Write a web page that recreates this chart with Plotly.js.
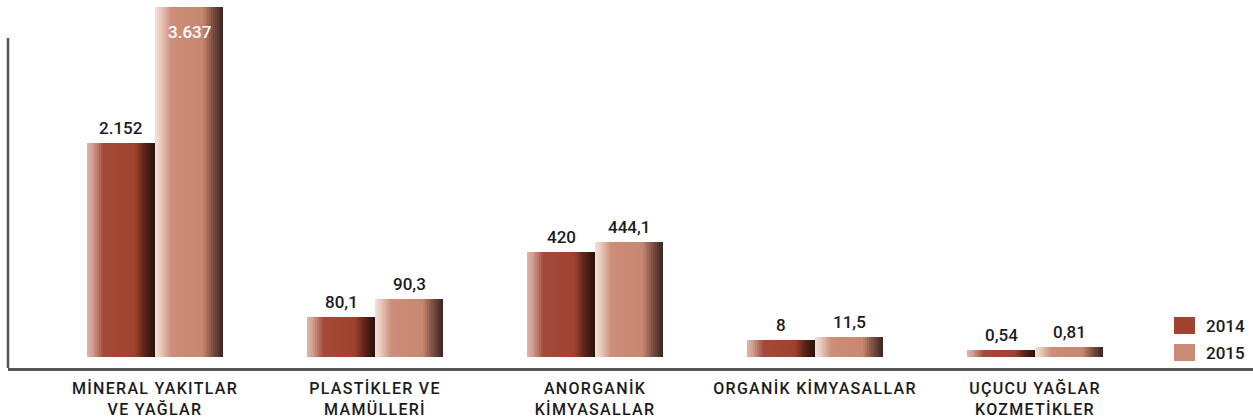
<!DOCTYPE html>
<html>
<head>
<meta charset="utf-8">
<script src="https://cdn.plot.ly/plotly-3.0.1.min.js"></script>
<style>
  html, body { margin: 0; padding: 0; background: #fff; }
  #chart { width: 1253px; height: 418px; }
  #chart .xtick text { letter-spacing: 1.3px; }
</style>
</head>
<body>
<div id="chart"></div>
<script>
// ---- Data ----
const categories = [
  'MİNERAL YAKITLAR<br>VE YAĞLAR',
  'PLASTİKLER VE<br>MAMÜLLERİ',
  'ANORGANİK<br>KİMYASALLAR',
  'ORGANİK KİMYASALLAR',
  'UÇUCU YAĞLAR<br>KOZMETİKLER'
];
const seriesNames = ['2014', '2015'];
// printed value labels
const labels2014 = ['2.152', '80,1', '420', '8', '0,54'];
const labels2015 = ['3.637', '90,3', '444,1', '11,5', '0,81'];
// bar heights as drawn in the reference (the original is not to scale)
const drawn2014 = [214, 40, 105, 17, 7];
const drawn2015 = [350, 58, 115, 20, 10];

// ---- Styling ----
const FONT = 'Roboto, "DejaVu Sans", sans-serif';
const TEXT = '#1b1b1b';
const W = 68 / 220;           // bar width (category units)
const N = 34;                 // gradient strips per bar

const palettes = [
  // 2014
  [[0, '#DDB6AB'], [0.08, '#D2A093'], [0.24, '#A54A3A'], [0.70, '#9F422E'], [0.84, '#5C2519'], [1, '#28110B']],
  // 2015
  [[0, '#F3E1DA'], [0.08, '#EACBBE'], [0.24, '#CC8D79'], [0.70, '#C8876F'], [0.84, '#7E5144'], [1, '#392520']]
];
const legendColors = ['#A1432F', '#CB8A76'];

function hex2rgb(h) { return [1, 3, 5].map(i => parseInt(h.substr(i, 2), 16)); }
function colorAt(pal, t) {
  for (let i = 0; i < pal.length - 1; i++) {
    const [t0, c0] = pal[i], [t1, c1] = pal[i + 1];
    if (t >= t0 && t <= t1) {
      const f = (t - t0) / (t1 - t0), a = hex2rgb(c0), b = hex2rgb(c1);
      return 'rgb(' + a.map((v, j) => Math.round(v + (b[j] - v) * f)).join(',') + ')';
    }
  }
  return pal[pal.length - 1][1];
}

const heights = [drawn2014, drawn2015];
const labels = [labels2014, labels2015];
const traces = [];
heights.forEach((ys, s) => {
  const base = s === 0 ? -W : 0;
  for (let k = 0; k < N; k++) {
    traces.push({
      type: 'bar',
      x: categories,
      y: ys,
      name: seriesNames[s],
      showlegend: false,
      width: W / N + (k < N - 1 ? 0.003 : 0),
      offset: base + k * W / N,
      marker: { color: colorAt(palettes[s], (k + 0.5) / N), line: { width: 0 } },
      hoverinfo: 'skip'
    });
  }
});

// value labels
const annotations = [];
const TOP = 357;
heights.forEach((ys, s) => {
  ys.forEach((v, i) => {
    const inside = v > TOP - 25;
    annotations.push({
      x: categories[i], y: v, xref: 'x', yref: 'y',
      xshift: s === 0 ? -34 : 34,
      yshift: inside ? -13 : 3,
      yanchor: inside ? 'top' : 'bottom',
      text: labels[s][i], showarrow: false,
      font: { family: FONT, size: 17, color: inside ? '#ffffff' : TEXT, weight: 500 }
    });
  });
});

// axis line and legend (legend drawn manually to match square size)
const shapes = [
  { type: 'line', xref: 'paper', yref: 'y', x0: 0, x1: 0, y0: -11, y1: 319,
    line: { color: '#555555', width: 2.5 } }
];
seriesNames.forEach((nm, s) => {
  const top = 317 + s * 27;
  shapes.push({ type: 'rect', xref: 'paper', yref: 'paper',
    x0: (1174 - 8) / 1245, x1: (1195 - 8) / 1245,
    y0: (368 - top - 17) / 368, y1: (368 - top) / 368,
    fillcolor: legendColors[s], line: { width: 0 } });
  annotations.push({ xref: 'paper', yref: 'paper', x: (1204 - 8) / 1245, y: (368 - top - 8.5) / 368,
    xanchor: 'left', yanchor: 'middle', text: nm, showarrow: false,
    font: { family: FONT, size: 17, color: TEXT, weight: 500 } });
});

const layout = {
  width: 1253, height: 418,
  margin: { l: 8, r: 0, t: 0, b: 50, pad: 0 },
  paper_bgcolor: '#ffffff', plot_bgcolor: '#ffffff',
  barmode: 'overlay',
  showlegend: false,
  xaxis: {
    type: 'category',
    range: [-147 / 220, (1245 - 147) / 220],
    showline: true, linecolor: '#555555', linewidth: 2.5,
    showgrid: false, zeroline: false, ticks: '',
    tickfont: { family: FONT, size: 16, color: TEXT, weight: 500 },
    ticklabelstandoff: 4,
    fixedrange: true
  },
  yaxis: {
    range: [-11, 357],
    showline: false, showgrid: false, zeroline: false, showticklabels: false, ticks: '',
    fixedrange: true
  },
  shapes: shapes,
  annotations: annotations,
  font: { family: FONT }
};

Plotly.newPlot('chart', traces, layout, { displayModeBar: false, staticPlot: true });
</script>
</body>
</html>
